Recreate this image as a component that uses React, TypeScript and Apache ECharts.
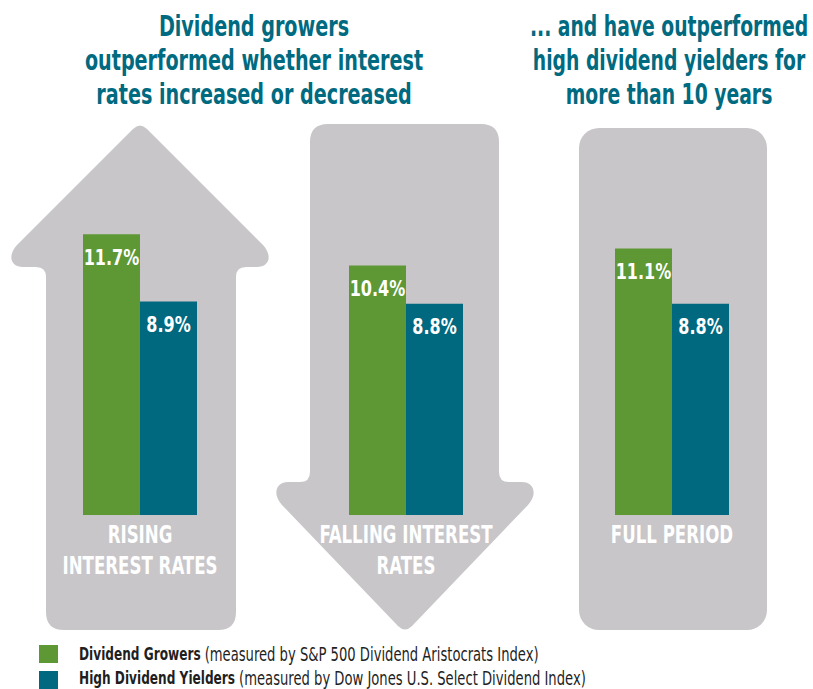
import React, { useEffect, useRef } from "react";
import * as echarts from "echarts";

const categories = ["RISING\nINTEREST RATES", "FALLING INTEREST\nRATES", "FULL PERIOD"];
const growers = [11.7, 10.4, 11.1];
const yielders = [8.9, 8.8, 8.8];
const seriesNames = ["Dividend Growers", "High Dividend Yielders"];
const seriesNotes = [
  "(measured by S&P 500 Dividend Aristocrats Index)",
  "(measured by Dow Jones U.S. Select Dividend Index)",
];
const titleLeft = "Dividend growers\noutperformed whether interest\nrates increased or decreased";
const titleRight = "... and have outperformed\nhigh dividend yielders for\nmore than 10 years";

const GREEN = "#5e9834";
const TEAL = "#00697f";
const TITLE = "#006a80";
const GRAY = "#c8c6c9";
const FONT = "'DejaVu Sans Condensed', 'DejaVu Sans', sans-serif";

const upArrowD =
  "M 133 129 Q 140 122 147 129 L 263 245 C 273 256 269 267 257 267 L 246 267 Q 236 267 236 277 L 236 612 Q 236 630 218 630 L 64 630 Q 46 630 46 612 L 46 277 Q 46 267 36 267 L 23 267 C 11 267 7 256 17 245 Z";
const downArrowD =
  "M 328 124 L 481 124 Q 499 124 499 142 L 499 472 Q 499 482 509 482 L 522 482 C 534 482 538 494 528 505 L 412 626 Q 405 633 398 626 L 282 505 C 272 494 276 482 288 482 L 300 482 Q 310 482 310 472 L 310 142 Q 310 124 328 124 Z";

let registered = false;
function registerShapes() {
  if (registered) return;
  echarts.graphic.registerShape("upArrow", echarts.graphic.extendPath(upArrowD, {}) as any);
  echarts.graphic.registerShape("downArrow", echarts.graphic.extendPath(downArrowD, {}) as any);
  registered = true;
}

export default function App() {
  const ref = useRef<HTMLDivElement>(null);
  useEffect(() => {
    document.body.style.margin = "0";
    registerShapes();
    const chart = echarts.init(ref.current!, null, { renderer: "svg" });
    const seriesData = [growers, yielders];
    const colors = [GREEN, TEAL];
    chart.setOption({
      animation: false,
      backgroundColor: "#ffffff",
      grid: { left: 7, width: 798, top: 131, height: 384, containLabel: false },
      xAxis: {
        type: "category",
        data: categories,
        axisLine: { show: false },
        axisTick: { show: false },
        axisLabel: { show: false },
      },
      yAxis: { type: "value", min: 0, max: 16, show: false, splitLine: { show: false } },
      series: seriesData.map((d, s) => ({
        name: seriesNames[s],
        type: "bar",
        data: d,
        barWidth: 57,
        barGap: "0%",
        itemStyle: { color: colors[s] },
      })),
    });

    const base = chart.convertToPixel({ yAxisIndex: 0 }, 0) as number;
    const model = (chart as any).getModel();
    const graphics: any[] = [
      { type: "upArrow", x: 0, y: 0, z: -10, style: { fill: GRAY } },
      { type: "downArrow", x: 0, y: 0, z: -10, style: { fill: GRAY } },
      { type: "rect", z: -10, shape: { x: 579, y: 128, width: 188, height: 502, r: 20 }, style: { fill: GRAY } },
    ];
    [titleLeft, titleRight].forEach((t, k) => {
      graphics.push({
        type: "text",
        x: k === 0 ? 254 : 669,
        y: 9,
        scaleX: k === 0 ? 0.735 : 0.72,
        z: 10,
        style: {
          text: t,
          textAlign: "center",
          verticalAlign: "top",
          fill: TITLE,
          fontSize: 29,
          fontWeight: "bold",
          lineHeight: 34,
          fontFamily: FONT,
        },
      });
    });
    categories.forEach((c, i) => {
      const cx = chart.convertToPixel({ xAxisIndex: 0 }, c) as number;
      graphics.push({
        type: "text",
        x: cx,
        y: base + 4,
        scaleX: 0.74,
        z: 10,
        style: {
          text: c,
          textAlign: "center",
          verticalAlign: "top",
          fill: "#ffffff",
          fontSize: 25,
          fontWeight: "bold",
          lineHeight: 31,
          fontFamily: FONT,
        },
      });
      seriesData.forEach((d, s) => {
        const lay = model.getSeriesByIndex(s).getData().getItemLayout(i);
        let bx: number, top: number;
        if (lay) {
          bx = lay.x + lay.width / 2;
          top = Math.min(lay.y, lay.y + lay.height);
        } else {
          bx = cx + (s === 0 ? -28.5 : 28.5);
          top = chart.convertToPixel({ yAxisIndex: 0 }, d[i]) as number;
        }
        graphics.push({
          type: "text",
          x: bx,
          y: top + 23,
          scaleX: 0.81,
          z: 10,
          style: {
            text: `${d[i]}%`,
            textAlign: "center",
            verticalAlign: "middle",
            fill: "#ffffff",
            fontSize: 22,
            fontWeight: "bold",
            fontFamily: FONT,
          },
        });
      });
    });
    seriesNames.forEach((n, s) => {
      const y = 645 + s * 26;
      graphics.push({ type: "rect", z: 10, shape: { x: 39, y, width: 19, height: 18 }, style: { fill: colors[s] } });
      graphics.push({
        type: "text",
        x: 79,
        y: 654 + s * 24,
        scaleX: 0.75,
        z: 10,
        style: {
          text: `{b|${n}} {n|${seriesNotes[s]}}`,
          textAlign: "left",
          verticalAlign: "middle",
          fill: "#1f1f1f",
          fontSize: 18,
          fontFamily: FONT,
          rich: {
            b: { fontWeight: "bold", fontSize: 18, fontFamily: FONT, fill: "#1f1f1f" },
            n: { fontSize: 19.5, fontFamily: FONT, fill: "#1f1f1f" },
          },
        },
      });
    });
    chart.setOption({ graphic: graphics });
    return () => chart.dispose();
  }, []);
  return <div ref={ref} style={{ width: 813, height: 689 }} />;
}
